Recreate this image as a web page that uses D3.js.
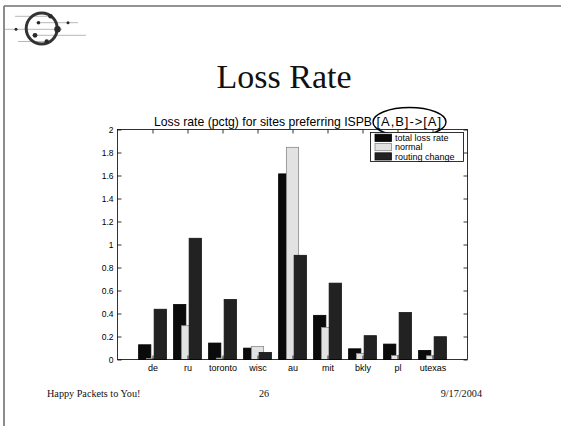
<!DOCTYPE html>
<html>
<head>
<meta charset="utf-8">
<script src="https://cdn.jsdelivr.net/npm/d3@7/dist/d3.min.js"></script>
<style>
  html, body { margin: 0; padding: 0; background: #fff; }
  svg { display: block; }
</style>
</head>
<body>
<svg id="slide" width="561" height="426"></svg>
<script>
// Loss rate per site (percent), three series
const sites = ["de", "ru", "toronto", "wisc", "au", "mit", "bkly", "pl", "utexas"];
const totalLoss = [0.128, 0.478, 0.143, 0.099, 1.614, 0.384, 0.093, 0.134, 0.079];
const normalLoss = [0.008, 0.294, 0.012, 0.113, 1.845, 0.279, 0.052, 0.035, 0.032];
const routingChangeLoss = [0.437, 1.054, 0.521, 0.061, 0.906, 0.664, 0.207, 0.408, 0.198];
const seriesNames = ["total loss rate", "normal", "routing change"];
const yTicks = [0, 0.2, 0.4, 0.6, 0.8, 1, 1.2, 1.4, 1.6, 1.8, 2];

const svg = d3.select("#slide");

// Slide frame
svg.append("line").attr("x1", 4).attr("x2", 561).attr("y1", 6).attr("y2", 6)
  .attr("stroke", "#707070").attr("stroke-width", 1.6);
svg.append("line").attr("x1", 4).attr("x2", 4).attr("y1", 6).attr("y2", 426)
  .attr("stroke", "#707070").attr("stroke-width", 1.6);

// Logo: circle with horizontal "packet" lines
const logo = svg.append("g");
const logoLines = [
  {x1: 15, x2: 52, y: 16.3, dots: [[50.5, 2.2]]},
  {x1: 36, x2: 78, y: 22.7, dots: [[38.5, 1.8], [68, 1.5]]},
  {x1: 5, x2: 62, y: 29.3, dots: [[16, 1.5], [57.5, 3.2]]},
  {x1: 34, x2: 86, y: 35.3, dots: [[35, 2.4]]},
  {x1: 18, x2: 49, y: 41.5, dots: [[46.7, 2.2]]}
];
logoLines.forEach(l => {
  logo.append("line").attr("x1", l.x1).attr("x2", l.x2).attr("y1", l.y).attr("y2", l.y)
    .attr("stroke", "#b8b8b8").attr("stroke-width", 1);
});
logo.append("circle").attr("cx", 41.7).attr("cy", 28.5).attr("r", 15.5)
  .attr("fill", "none").attr("stroke", "#333").attr("stroke-width", 3);
logoLines.forEach(l => {
  l.dots.forEach(d => {
    logo.append("circle").attr("cx", d[0]).attr("cy", l.y).attr("r", d[1]).attr("fill", "#2a2a2a");
  });
});

// Slide title
svg.append("text").attr("x", 284).attr("y", 88).attr("text-anchor", "middle")
  .attr("font-family", "'Liberation Serif', 'Times New Roman', serif")
  .attr("font-size", 34).attr("fill", "#111").text("Loss Rate");

// Chart area
const plot = {left: 117.5, right: 467.5, top: 129.5, bottom: 359.5};
const x = d3.scaleLinear().domain([0, sites.length + 1]).range([plot.left, plot.right]);
const y = d3.scaleLinear().domain([0, 2]).range([plot.bottom, plot.top]);

const g = svg.append("g");

// Chart title; the path notation is circled
const titleFont = "'Liberation Sans', Arial, sans-serif";
g.append("text").attr("x", 154).attr("y", 125.5)
  .attr("font-family", titleFont).attr("font-size", 12.6).attr("fill", "#000")
  .attr("textLength", 218).attr("lengthAdjust", "spacingAndGlyphs")
  .text("Loss rate (pctg) for sites preferring ISPB");
g.append("text").attr("x", 376.5).attr("y", 125.5)
  .attr("font-family", titleFont).attr("font-size", 13).attr("fill", "#000")
  .attr("textLength", 64.5).attr("lengthAdjust", "spacing")
  .text("[A,B]->[A]");
g.append("ellipse").attr("cx", 409.5).attr("cy", 122).attr("rx", 36.5).attr("ry", 14.5)
  .attr("fill", "none").attr("stroke", "#000").attr("stroke-width", 1.4);

// Bars: three overlapping bars per site
const barWidth = 0.35;
const offsets = [-0.222, 0, 0.222];
const fills = ["#0b0b0b", "#e2e2e2", "#222222"];
const strokes = ["#000", "#8a8a8a", "#111"];
const seriesData = [totalLoss, normalLoss, routingChangeLoss];

seriesData.forEach((vals, si) => {
  g.append("g").selectAll("rect").data(vals).join("rect")
    .attr("x", (d, i) => x(i + 1 + offsets[si] - barWidth / 2))
    .attr("width", x(barWidth) - x(0))
    .attr("y", d => y(d))
    .attr("height", d => y(0) - y(d))
    .attr("fill", fills[si])
    .attr("stroke", strokes[si])
    .attr("stroke-width", 0.8);
});

// Axes box with inward ticks on all four sides
const tickFont = "'Liberation Sans', Arial, sans-serif";
const idx = sites.map((s, i) => i + 1);

const yAxisL = d3.axisLeft(y).tickValues(yTicks).tickFormat(d3.format("~g"))
  .tickSizeInner(-4).tickSizeOuter(0).tickPadding(4);
const yAxisR = d3.axisRight(y).tickValues(yTicks).tickFormat("")
  .tickSizeInner(-4).tickSizeOuter(0);
const xAxisB = d3.axisBottom(x).tickValues(idx).tickFormat(i => sites[i - 1])
  .tickSizeInner(-4).tickSizeOuter(0).tickPadding(5);
const xAxisT = d3.axisTop(x).tickValues(idx).tickFormat("")
  .tickSizeInner(-4).tickSizeOuter(0);

function styleAxis(sel, size) {
  sel.selectAll("path").remove();
  sel.selectAll("line").attr("stroke", "#000").attr("stroke-width", 0.8);
  sel.selectAll("text").attr("font-family", tickFont).attr("font-size", size).attr("fill", "#000");
}

styleAxis(g.append("g").attr("transform", `translate(${plot.left},0)`).call(yAxisL), 8.5);
styleAxis(g.append("g").attr("transform", `translate(${plot.right},0)`).call(yAxisR), 8.5);
styleAxis(g.append("g").attr("transform", `translate(0,${plot.bottom})`).call(xAxisB), 9);
styleAxis(g.append("g").attr("transform", `translate(0,${plot.top})`).call(xAxisT), 9);

g.append("rect").attr("x", plot.left).attr("y", plot.top)
  .attr("width", plot.right - plot.left).attr("height", plot.bottom - plot.top)
  .attr("fill", "none").attr("stroke", "#000").attr("stroke-width", 0.8);

// Legend
const legend = g.append("g");
legend.append("rect").attr("x", 370.5).attr("y", 132.5).attr("width", 93).attr("height", 29)
  .attr("fill", "#fff").attr("stroke", "#000").attr("stroke-width", 0.8);
seriesNames.forEach((name, i) => {
  const cy = 137.8 + i * 9.3;
  legend.append("rect").attr("x", 375).attr("y", cy - 3.6).attr("width", 16.5).attr("height", 7.2)
    .attr("fill", fills[i]).attr("stroke", strokes[i]).attr("stroke-width", 0.8);
  legend.append("text").attr("x", 395).attr("y", cy + 3.2)
    .attr("font-family", tickFont).attr("font-size", 9).attr("fill", "#000").text(name);
});

// Footer
const footFont = "'Liberation Serif', 'Times New Roman', serif";
svg.append("text").attr("x", 47).attr("y", 397).attr("font-family", footFont)
  .attr("font-size", 10.2).attr("fill", "#111").text("Happy Packets to You!");
svg.append("text").attr("x", 264).attr("y", 397).attr("text-anchor", "middle").attr("font-family", footFont)
  .attr("font-size", 10.2).attr("fill", "#111").text("26");
svg.append("text").attr("x", 482).attr("y", 397).attr("text-anchor", "end").attr("font-family", footFont)
  .attr("font-size", 10.2).attr("fill", "#111").text("9/17/2004");
</script>
</body>
</html>
